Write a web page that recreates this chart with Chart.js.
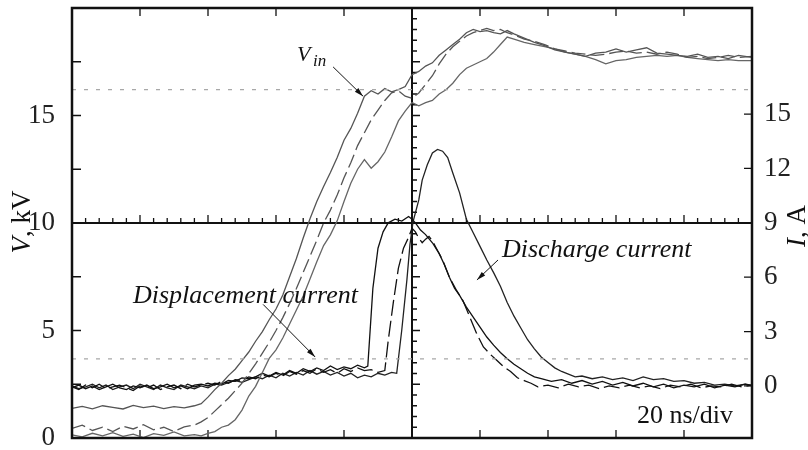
<!DOCTYPE html>
<html>
<head>
    <title>Displacement and discharge current</title>
    <script src="https://cdn.jsdelivr.net/npm/chart.js"></script>
    <style>
        body { margin: 0; background: #fff; }
    </style>
</head>
<body>
    <canvas id="scopeChart" width="808" height="450"></canvas>
    <script>
        // time grid (ns) shared by the three voltage traces
        const tV = [0,3,6,9,12,15,18,21,24,27,30,33,36,
            38,40,42,44,46,48,50,52,54,56,58,60,62,64,66,68,70,72,74,76,78,80,82,84,86,88,90,92,94,96,98,100,102,104,106,108,110,112,114,116,118,120,122,124,126,128,130,
            133,136,139,142,145,148,151,154,157,160,163,166,169,172,175,178,181,184,187,190,193,196,200];

        // input voltage traces, kV
        const vinA = [1.38,1.47,1.36,1.5,1.42,1.35,1.52,1.41,1.48,1.37,1.46,1.4,1.5,
            1.6,1.9,2.25,2.55,2.9,3.2,3.6,4.0,4.5,4.95,5.5,6.0,6.65,7.5,8.35,9.3,10.2,11.0,11.7,12.35,13.05,13.85,14.4,15.1,15.9,16.15,16.0,16.25,16.1,16.2,16.35,16.9,17.05,17.3,17.45,17.8,18.05,18.3,18.55,18.85,19.0,18.9,18.95,18.85,18.8,18.95,18.8,
            18.6,18.4,18.25,18.05,17.95,17.85,17.75,17.9,17.95,18.1,17.95,18.05,18.15,17.9,17.85,17.8,17.75,17.85,17.7,17.75,17.65,17.8,17.7];
        const vinB = [0.45,0.6,0.35,0.5,0.3,0.55,0.42,0.62,0.38,0.5,0.3,0.52,0.6,
            0.75,0.95,1.25,1.55,1.85,2.2,2.55,3.0,3.45,3.95,4.45,5.0,5.6,6.25,6.95,7.7,8.45,9.2,10.0,10.6,11.3,12.1,12.8,13.6,14.2,14.8,15.25,15.7,16.05,16.15,15.9,15.8,16.05,16.45,16.85,17.4,17.85,18.2,18.45,18.7,18.85,18.95,19.05,18.95,19.0,18.85,18.75,
            18.55,18.45,18.3,18.1,18.0,17.9,17.85,17.8,17.85,17.95,18.0,17.9,17.95,17.85,17.95,17.85,17.7,17.75,17.65,17.7,17.8,17.7,17.75];
        const vinC = [0.15,0.05,0.22,0.1,0.25,0.08,0.18,0.02,0.2,0.12,0.28,0.1,0.16,
            0.1,0.22,0.3,0.5,0.6,0.85,1.3,1.95,2.4,3.05,3.7,4.1,4.65,5.3,5.95,6.6,7.4,8.2,8.95,9.45,10.1,11.0,11.85,12.5,12.95,12.55,12.85,13.3,14.0,14.75,15.2,15.6,15.45,15.6,15.7,16.0,16.2,16.5,16.9,17.2,17.35,17.5,17.65,17.95,18.3,18.65,18.55,
            18.4,18.3,18.2,18.1,17.95,17.85,17.75,17.6,17.4,17.55,17.6,17.7,17.75,17.8,17.75,17.8,17.7,17.65,17.6,17.55,17.6,17.55,17.55];

        // current traces [ns, A]: displacement current, then discharge current
        const curEarly = [[0,-0.1],[2,0.05],[4,-0.15],[6,0],[8,-0.2],[10,-0.05],[12,0.1],[14,-0.1],[16,-0.2],[18,0],[20,-0.1],[22,0.05],[24,-0.15],[26,-0.05],[28,0.1],[30,-0.1],[32,0],[34,-0.15],[36,0.05],[38,0.1],[40,0],[42,0.15],[44,0.1],[46,0.3],[48,0.25],[50,0.45],[52,0.4],[54,0.5],[56,0.7],[58,0.55],[60,0.75],[62,0.6],[64,0.85],[66,0.7],[68,0.95],[70,0.8],[72,1.0],[74,0.85],[76,1.1],[78,0.9],[80,1.05],[82,0.95],[84,1.15],[86,1.0],[87,1.1],[88.5,5.4],[90,7.6],[91.5,8.5],[93,9.0],[95,9.2],[97,9.1],[99,9.35],[100,9.2],[101,9.0],[102.5,8.6],[104,8.35],[106,7.9],[108,7.3],[109.5,6.7],[111,6.0],[112.5,5.4],[114,5.0],[116,4.35],[118,3.8],[120,3.25],[122,2.7],[124,2.25],[126,1.85],[128,1.5],[130,1.2],[132,0.95],[134,0.7],[136,0.5],[138,0.4],[141,0.25],[144,0.35],[147,0.15],[150,0.3],[153,0.1],[156,0.25],[159,0.05],[162,0.2],[165,0.0],[168,0.15],[171,-0.05],[174,0.1],[177,-0.1],[180,0.05],[183,-0.05],[186,0.1],[189,-0.1],[192,0.05],[195,-0.05],[198,0.1],[200,0.0]];
        const curMid = [[0,-0.05],[2,-0.2],[4,0.05],[6,-0.1],[8,0.1],[10,-0.15],[12,-0.05],[14,0.05],[16,-0.1],[18,-0.25],[20,0.0],[22,-0.1],[24,0.05],[26,-0.2],[28,-0.05],[30,0.05],[32,-0.15],[34,0.1],[36,-0.05],[38,0.05],[40,0.15],[42,0.05],[44,0.25],[46,0.15],[48,0.35],[50,0.3],[52,0.5],[54,0.4],[56,0.6],[58,0.5],[60,0.7],[62,0.55],[64,0.8],[66,0.65],[68,0.85],[70,0.7],[72,0.95],[74,0.75],[76,0.9],[78,0.7],[80,0.95],[82,0.8],[84,1.0],[86,0.85],[88,0.9],[90,0.75],[92,0.85],[93,2.5],[94.5,4.6],[96,6.5],[97.5,7.6],[99,8.2],[100,8.7],[101,8.5],[102,8.15],[103,7.9],[104,8.1],[105,8.25],[106,8.0],[107,7.65],[109,6.95],[111,6.0],[113,5.3],[115,4.7],[117,3.8],[119,2.9],[121,2.15],[123,1.75],[125,1.4],[127,1.05],[129,0.8],[131,0.45],[133,0.3],[135,0.15],[137,-0.05],[140,0.05],[143,-0.1],[146,0.1],[149,-0.05],[152,0.05],[155,-0.15],[158,0.0],[161,-0.1],[164,0.05],[167,-0.1],[170,0.0],[173,-0.15],[176,0.05],[179,-0.05],[182,0.1],[185,-0.1],[188,0.0],[191,-0.05],[194,0.1],[197,-0.05],[200,0.05]];
        const curLate = [[0,0.0],[2,-0.15],[4,-0.05],[6,0.1],[8,-0.1],[10,0.05],[12,-0.2],[14,-0.05],[16,0.05],[18,-0.15],[20,0.1],[22,-0.05],[24,-0.2],[26,0.05],[28,-0.1],[30,-0.2],[32,0.05],[34,-0.05],[36,-0.15],[38,0.0],[40,-0.1],[42,0.1],[44,0.05],[46,0.2],[48,0.3],[50,0.2],[52,0.35],[54,0.5],[56,0.4],[58,0.6],[60,0.45],[62,0.7],[64,0.55],[66,0.75],[68,0.6],[70,0.85],[72,0.65],[74,0.8],[76,0.6],[78,0.75],[80,0.55],[82,0.7],[84,0.45],[86,0.6],[88,0.5],[90,0.7],[92,0.6],[94,0.75],[95.5,0.7],[97,3.1],[98.5,5.85],[99.4,7.8],[100.3,9.05],[102,10.26],[103,11.36],[104.5,12.2],[106,12.85],[107.5,13.05],[109,12.95],[110.5,12.6],[112,11.75],[114,10.65],[116,9.2],[118,8.45],[120,7.7],[122,6.95],[124,6.25],[126,5.5],[128,4.6],[130,3.85],[132,3.2],[134,2.55],[136,2.05],[138,1.6],[140,1.3],[142,1.0],[144,0.8],[146,0.65],[148,0.5],[150,0.55],[153,0.4],[156,0.5],[159,0.35],[162,0.45],[165,0.3],[168,0.5],[171,0.35],[174,0.4],[177,0.25],[180,0.3],[183,0.15],[186,0.2],[189,0.05],[192,0.1],[195,0.0],[198,0.1],[200,0.05]];

        // scope reference levels
        const refV = 16.2;
        const refI = 1.5;

        // axis tick labels
        const vTicks = [0, 5, 10, 15];
        const iTicks = [0, 3, 6, 9, 12, 15];

        const serif = '"Liberation Serif", "Times New Roman", serif';
        const pts = (ts, vs) => ts.map((t, i) => ({ x: t, y: vs[i] }));
        const pairs = arr => arr.map(p => ({ x: p[0], y: p[1] }));

        function trace(data, axis, color, dash) {
            return {
                data: data,
                yAxisID: axis,
                borderColor: color,
                borderWidth: 1.3,
                borderDash: dash || [],
                pointRadius: 0,
                showLine: true,
                tension: 0
            };
        }

        function arrow(ctx, x1, y1, x2, y2) {
            const a = Math.atan2(y2 - y1, x2 - x1);
            ctx.beginPath();
            ctx.moveTo(x1, y1);
            ctx.lineTo(x2, y2);
            ctx.stroke();
            ctx.beginPath();
            ctx.moveTo(x2, y2);
            ctx.lineTo(x2 - 9 * Math.cos(a) + 2.5 * Math.sin(a), y2 - 9 * Math.sin(a) - 2.5 * Math.cos(a));
            ctx.lineTo(x2 - 9 * Math.cos(a) - 2.5 * Math.sin(a), y2 - 9 * Math.sin(a) + 2.5 * Math.cos(a));
            ctx.closePath();
            ctx.fill();
        }

        // frame, centre cross, inward ticks and labels
        const scopeFrame = {
            id: 'scopeFrame',
            beforeDatasetsDraw(chart) {
                const ctx = chart.ctx, a = chart.chartArea;
                const x = chart.scales.x, yV = chart.scales.yV;
                const xc = x.getPixelForValue(100), yc = yV.getPixelForValue(10);
                ctx.save();
                ctx.strokeStyle = '#111';
                ctx.lineWidth = 2;
                ctx.beginPath();
                ctx.moveTo(xc, a.top); ctx.lineTo(xc, a.bottom);
                ctx.moveTo(a.left, yc); ctx.lineTo(a.right, yc);
                ctx.stroke();
                ctx.lineWidth = 1.3;
                ctx.beginPath();
                for (let t = 4; t < 200; t += 4) {
                    const px = x.getPixelForValue(t);
                    const len = t % 20 === 0 ? 8 : 5;
                    ctx.moveTo(px, yc); ctx.lineTo(px, yc - len);
                }
                for (let v = 0.5; v < 20; v += 0.5) {
                    const py = yV.getPixelForValue(v);
                    const len = Math.abs(v / 2.5 - Math.round(v / 2.5)) < 1e-6 ? 8 : 5;
                    ctx.moveTo(xc, py); ctx.lineTo(xc + len, py);
                }
                for (let t = 20; t < 200; t += 20) {
                    if (t === 100) continue;
                    const px = x.getPixelForValue(t);
                    ctx.moveTo(px, a.top); ctx.lineTo(px, a.top + 8);
                    ctx.moveTo(px, a.bottom); ctx.lineTo(px, a.bottom - 8);
                }
                for (let v = 2.5; v < 20; v += 2.5) {
                    const py = yV.getPixelForValue(v);
                    ctx.moveTo(a.left, py); ctx.lineTo(a.left + 9, py);
                }
                iTicks.forEach(v => {
                    const py = chart.scales.yI.getPixelForValue(v);
                    ctx.moveTo(a.right, py); ctx.lineTo(a.right - 8, py);
                });
                ctx.stroke();
                ctx.restore();
            },
            afterDatasetsDraw(chart) {
                const ctx = chart.ctx, a = chart.chartArea;
                const x = chart.scales.x, yV = chart.scales.yV, yI = chart.scales.yI;
                ctx.save();
                ctx.strokeStyle = '#111';
                ctx.lineWidth = 2.5;
                ctx.strokeRect(a.left, a.top, a.right - a.left, a.bottom - a.top);

                ctx.fillStyle = '#111';
                ctx.lineWidth = 1;
                ctx.textBaseline = 'alphabetic';

                // V_in label
                ctx.font = 'italic 22px ' + serif;
                ctx.fillText('V', 297, 61);
                ctx.font = 'italic 17px ' + serif;
                ctx.fillText('in', 313, 66);
                arrow(ctx, x.getPixelForValue(76.8), yV.getPixelForValue(17.26),
                    x.getPixelForValue(85.6), yV.getPixelForValue(15.9));

                ctx.font = 'italic 26px ' + serif;
                ctx.fillText('Displacement current', 133, 303);
                arrow(ctx, x.getPixelForValue(56.2), yI.getPixelForValue(4.5),
                    x.getPixelForValue(71.5), yI.getPixelForValue(1.6));

                ctx.fillText('Discharge current', 502, 257);
                arrow(ctx, x.getPixelForValue(125.3), yI.getPixelForValue(6.95),
                    x.getPixelForValue(119.1), yI.getPixelForValue(5.85));

                ctx.font = '26px ' + serif;
                ctx.fillText('20 ns/div', 637, 423);

                // axis titles, rotated
                const title = (cx, cy, it, rest) => {
                    ctx.save();
                    ctx.translate(cx, cy);
                    ctx.rotate(-Math.PI / 2);
                    ctx.font = 'italic 27px ' + serif;
                    const w1 = ctx.measureText(it).width;
                    ctx.font = '27px ' + serif;
                    const w2 = ctx.measureText(rest).width;
                    const s = -(w1 + w2) / 2;
                    ctx.font = 'italic 27px ' + serif;
                    ctx.fillText(it, s, 0);
                    ctx.font = '27px ' + serif;
                    ctx.fillText(rest, s + w1, 0);
                    ctx.restore();
                };
                title(30, 222, 'V', ', kV');
                title(805, 226, 'I', ', A');
                ctx.restore();
            }
        };

        const ctx = document.getElementById('scopeChart').getContext('2d');
        new Chart(ctx, {
            type: 'scatter',
            data: {
                datasets: [
                    trace([{ x: 0, y: refV }, { x: 200, y: refV }], 'yV', '#a8a8a8', [4, 8]),
                    trace([{ x: 0, y: refI }, { x: 200, y: refI }], 'yI', '#a8a8a8', [4, 8]),
                    trace(pts(tV, vinA), 'yV', '#555'),
                    trace(pts(tV, vinB), 'yV', '#555', [14, 5]),
                    trace(pts(tV, vinC), 'yV', '#666'),
                    trace(pairs(curEarly), 'yI', '#111'),
                    trace(pairs(curMid), 'yI', '#111', [16, 5]),
                    trace(pairs(curLate), 'yI', '#222')
                ]
            },
            options: {
                responsive: false,
                animation: false,
                layout: { padding: { top: 8, bottom: 12, left: 0, right: 0 } },
                plugins: {
                    legend: { display: false },
                    tooltip: { enabled: false }
                },
                scales: {
                    x: { type: 'linear', min: 0, max: 200, display: false },
                    yV: {
                        position: 'left',
                        min: 0,
                        max: 20,
                        grid: { display: false },
                        border: { display: false },
                        afterBuildTicks: s => { s.ticks = vTicks.map(v => ({ value: v })); },
                        afterFit: s => { s.width = 72; s.paddingTop = 0; s.paddingBottom = 0; },
                        ticks: { font: { family: serif, size: 27 }, color: '#222', padding: 9 }
                    },
                    yI: {
                        position: 'right',
                        min: -2.87,
                        max: 20.85,
                        grid: { display: false },
                        border: { display: false },
                        afterBuildTicks: s => { s.ticks = iTicks.map(v => ({ value: v })); },
                        afterFit: s => { s.width = 56; s.paddingTop = 0; s.paddingBottom = 0; },
                        ticks: { font: { family: serif, size: 27 }, color: '#222', padding: 4 }
                    }
                }
            },
            plugins: [scopeFrame]
        });
    </script>
</body>
</html>
